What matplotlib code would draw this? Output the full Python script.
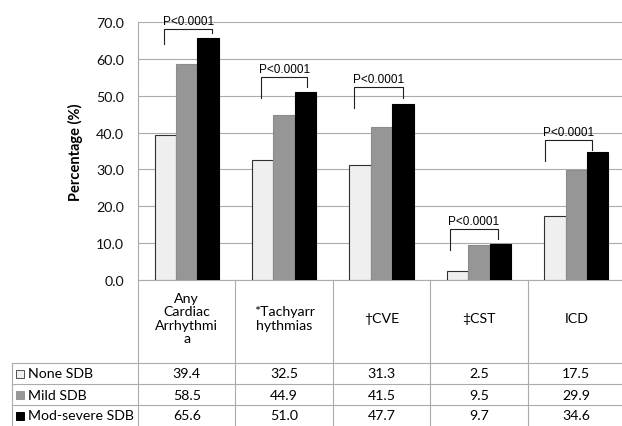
import matplotlib
matplotlib.use("Agg")
import matplotlib.pyplot as plt
from matplotlib.transforms import blended_transform_factory

# chart data
categories = ["Any\nCardiac\nArrhythmi\na", "*Tachyarr\nhythmias", "\u2020CVE", "\u2021CST", "ICD"]
groups = ["None SDB", "Mild SDB", "Mod-severe SDB"]
none_sdb = [39.4, 32.5, 31.3, 2.5, 17.5]
mild_sdb = [58.5, 44.9, 41.5, 9.5, 29.9]
mod_severe_sdb = [65.6, 51.0, 47.7, 9.7, 34.6]
p_labels = ["P<0.0001", "P<0.0001", "P<0.0001", "P<0.0001", "P<0.0001"]

# bracket placement (value units / category offsets), hand placed like the original
bracket_top = [68.2, 55.2, 52.4, 13.9, 38.0]
bracket_drop_left = [4.3, 5.7, 5.7, 5.7, 5.6]
bracket_drop_right = [1.2, 2.8, 2.9, 2.8, 2.6]
bracket_left = [-0.23, -0.24, -0.28, -0.30, -0.32]
bracket_right = [0.26, 0.24, 0.22, 0.20, 0.16]

series = [none_sdb, mild_sdb, mod_severe_sdb]
colors = ["#efefef", "#969696", "#000000"]
edges = ["#303030", "#8c8c8c", "#000000"]
grid_c = "#ababab"
table_font = "Lato"

W, H = 622, 427
fig = plt.figure(figsize=(W / 100, H / 100), dpi=100)
ax_left, ax_right, ax_top, ax_bot = 138, 625, 23, 281
ax = fig.add_axes([ax_left / W, (H - ax_bot) / H, (ax_right - ax_left) / W, (ax_bot - ax_top) / H])

x = list(range(len(categories)))
bw = 0.22
for i, vals in enumerate(series):
    ax.bar([xi + (i - 1) * bw for xi in x], vals, width=bw, color=colors[i],
           edgecolor=edges[i], linewidth=0.8, zorder=3, label=groups[i])

ax.set_xlim(-0.5, len(categories) - 0.5)
ax.set_ylim(0, 70)
ax.set_yticks(range(0, 71, 10))
ax.set_yticklabels(["%.1f" % v for v in range(0, 71, 10)], fontfamily=table_font, fontsize=10.3)
ax.set_xticks([])
ax.tick_params(axis="y", length=0, pad=10, labelcolor="#111111")
ax.yaxis.grid(True, color=grid_c, linewidth=0.8, zorder=0)
for s in ["top", "right"]:
    ax.spines[s].set_visible(False)
ax.spines["left"].set_color(grid_c)
ax.spines["bottom"].set_color(grid_c)
ax.spines["left"].set_linewidth(0.8)
ax.spines["bottom"].set_linewidth(0.8)
ax.set_ylabel("Percentage (%)", fontfamily=table_font, fontsize=10.5, fontweight="bold")
ax.yaxis.set_label_coords((83 - ax_left) / (ax_right - ax_left), 0.5)

# significance brackets
for i in x:
    xl = i + bracket_left[i]
    xr = i + bracket_right[i]
    top = bracket_top[i]
    ax.plot([xl, xl, xr, xr], [top - bracket_drop_left[i], top, top, top - bracket_drop_right[i]],
            color="#202020", linewidth=0.8, clip_on=False, zorder=4)
    ax.annotate(p_labels[i], xy=((xl + xr) / 2, top), xytext=(0, 3.5), textcoords="offset points",
                ha="center", va="baseline", fontsize=8.5, fontfamily="Liberation Sans",
                annotation_clip=False)

# data table below the plot
tr = blended_transform_factory(ax.transData, ax.transAxes)
ax_h = ax_bot - ax_top
cat_px = (ax_right - ax_left) / len(categories)


def ay(py):
    return (ax_bot - py) / ax_h


def dx(px):
    return (px - ax_left) / cat_px - 0.5


rows_y = [364, 385, 406, 427]
tbl_left = 12
# vertical lines
ax.plot([dx(tbl_left), dx(tbl_left)], [ay(rows_y[0]), ay(rows_y[-1])], transform=tr,
        color=grid_c, linewidth=0.8, clip_on=False)
for k in range(len(categories) + 1):
    ax.plot([k - 0.5, k - 0.5], [ay(ax_bot), ay(rows_y[-1])], transform=tr,
            color=grid_c, linewidth=0.8, clip_on=False)
# horizontal lines
for ry in rows_y[:-1]:
    ax.plot([dx(tbl_left), len(categories) - 0.5], [ay(ry), ay(ry)], transform=tr,
            color=grid_c, linewidth=0.8, clip_on=False)

# header labels
for i, c in enumerate(categories):
    ax.text(i, ay(319), c, transform=tr, ha="center", va="center", fontsize=10.2,
            fontfamily=table_font, linespacing=1.12, clip_on=False)

# rows
for r, vals in enumerate(series):
    cy = ay((rows_y[r] + rows_y[r + 1]) / 2)
    ax.plot([dx(20.5)], [cy], transform=tr, marker="s", markersize=5.2,
            markerfacecolor=colors[r], markeredgecolor="#505050" if r == 0 else colors[r],
            markeredgewidth=0.7, clip_on=False, linestyle="none")
    ax.text(dx(28), cy, groups[r], transform=tr, ha="left", va="center", fontsize=10.2,
            fontfamily=table_font, clip_on=False)
    for i, v in enumerate(vals):
        ax.text(i, cy, "%.1f" % v, transform=tr, ha="center", va="center", fontsize=10.2,
                fontfamily=table_font, clip_on=False)

fig.savefig("out.png", dpi=100)
